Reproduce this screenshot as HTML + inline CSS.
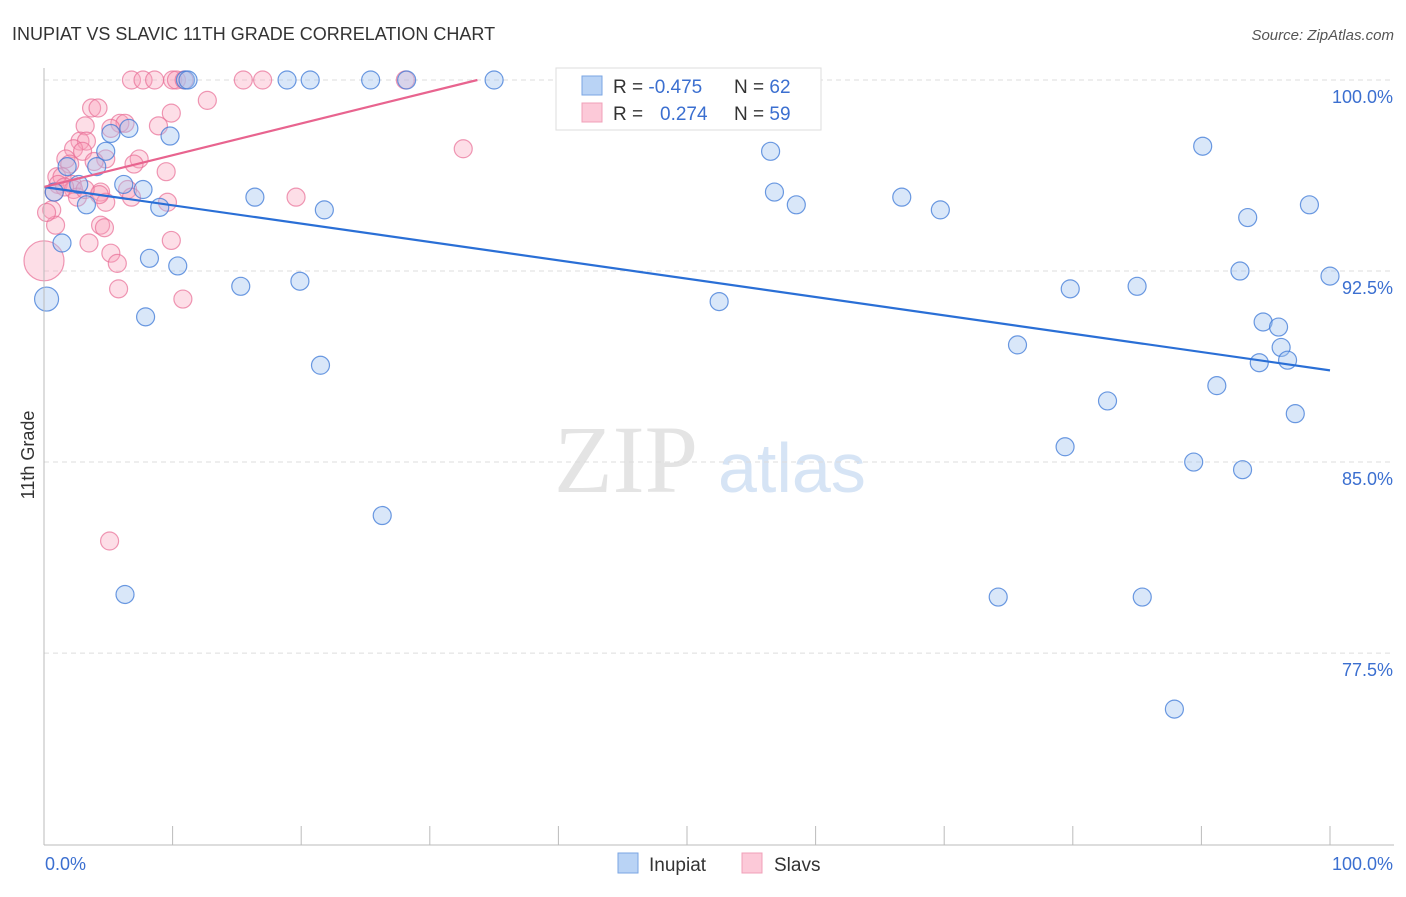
<!DOCTYPE html>
<html><head><meta charset="utf-8"><style>
body{margin:0;background:#fff;font-family:"Liberation Sans",sans-serif}
</style></head><body>
<svg id="chart" width="1406" height="892" xmlns="http://www.w3.org/2000/svg">
<text x="12" y="40" font-size="18" fill="#333">INUPIAT VS SLAVIC 11TH GRADE CORRELATION CHART</text>
<text x="1394" y="40" font-size="15" fill="#555" text-anchor="end" font-style="italic">Source: ZipAtlas.com</text>
<text x="554" y="492" font-size="96" fill="#e4e4e4" font-family="Liberation Serif">ZIP</text>
<text x="718" y="492" font-size="70" fill="#d6e4f5">atlas</text>
<text transform="translate(34,455) rotate(-90)" font-size="18" fill="#333" text-anchor="middle">11th Grade</text>
<g id="grid"></g><g id="pts"></g><g id="lines"></g>
<line x1="44" y1="68" x2="44" y2="845" stroke="#bbb"/>
<line x1="44" y1="845" x2="1394" y2="845" stroke="#bbb"/>
<text x="45" y="870" font-size="18" fill="#3b6fd0">0.0%</text>
<text x="1393" y="870" font-size="18" fill="#3b6fd0" text-anchor="end">100.0%</text>
<g>
<rect x="556" y="68" width="265" height="62" fill="#fff" stroke="#ddd"/>
<rect x="582" y="76" width="20" height="19" fill="#b9d3f5" stroke="#7aa6e3"/>
<rect x="582" y="103" width="20" height="19" fill="#fcc9d8" stroke="#f0a0b8"/>
<text x="613" y="93" font-size="19" fill="#333">R = <tspan fill="#3b6fd0">-0.475</tspan></text>
<text x="734" y="93" font-size="19" fill="#333">N = <tspan fill="#3b6fd0">62</tspan></text>
<text x="613" y="120" font-size="19" fill="#333">R =   <tspan x="660" fill="#3b6fd0">0.274</tspan></text>
<text x="734" y="120" font-size="19" fill="#333">N = <tspan fill="#3b6fd0">59</tspan></text>
</g>
<g>
<rect x="618" y="853" width="20" height="20" fill="#b9d3f5" stroke="#7aa6e3"/>
<text x="649" y="871" font-size="19" fill="#333">Inupiat</text>
<rect x="742" y="853" width="20" height="20" fill="#fcc9d8" stroke="#f0a0b8"/>
<text x="774" y="871" font-size="19" fill="#333">Slavs</text>
</g>
</svg>
<script>
const yTicks=[100,92.5,85,77.5];
const yTickLabels=["100.0%","92.5%","85.0%","77.5%"];
const xTickCount=11;
const inupiatX=[11,11.2,18.9,20.7,25.4,28.2,35,47.3,9.8,5.2,6.6,4.8,4.1,1.8,2.7,0.8,6.2,7.7,3.3,9,16.4,21.8,1.4,8.2,10.4,15.3,19.9,0.2,7.9,21.5,26.3,6.3,56.5,56.8,58.5,66.7,69.7,90.1,93.6,98.4,100,93,79.8,85,52.5,94.8,96,96.2,94.5,96.7,75.7,91.2,82.7,97.3,79.4,89.4,93.2,74.2,85.4,87.9];
const inupiatY=[100,100,100,100,100,100,100,100,97.8,97.9,98.1,97.2,96.6,96.6,95.9,95.6,95.9,95.7,95.1,95,95.4,94.9,93.6,93,92.7,91.9,92.1,91.4,90.7,88.8,82.9,79.8,97.2,95.6,95.1,95.4,94.9,97.4,94.6,95.1,92.3,92.5,91.8,91.9,91.3,90.5,90.3,89.5,88.9,89,89.6,88,87.4,86.9,85.6,85,84.7,79.7,79.7,75.3];
const slavsX=[6.8,7.7,8.6,10,10.3,10.9,15.5,17,28.1,12.7,3.7,4.2,9.9,5.9,6.3,8.9,3.2,5.2,2.8,3.3,2.3,3,4.8,7.4,3.9,7,1.7,2,9.5,1,1.4,2.2,1.1,2.3,1.6,6.5,4.4,19.6,6.8,2.6,4.8,9.6,0.6,0.9,4.4,4.7,3.5,5.2,9.9,5.7,32.6,0,5.8,10.8,5.1,4.3,0.2,0.8,3.2];
const slavsY=[100,100,100,100,100,100,100,100,100,99.2,98.9,98.9,98.7,98.3,98.3,98.2,98.2,98.1,97.6,97.6,97.3,97.2,96.9,96.9,96.8,96.7,96.9,96.7,96.4,96.2,96.2,95.9,95.9,95.7,95.8,95.7,95.6,95.4,95.4,95.4,95.2,95.2,94.9,94.3,94.3,94.2,93.6,93.2,93.7,92.8,97.3,92.9,91.8,91.4,81.9,95.5,94.8,95.6,95.7];
const inupiatLine=[[0,95.8],[100,88.6]];
const slavsLine=[[0,95.8],[33.7,100]];
const sx=v=>44+v*12.86;
const sy=v=>80+(100-v)*25.47;
const NS="http://www.w3.org/2000/svg";
const g=document.getElementById('grid'),P=document.getElementById('pts'),L=document.getElementById('lines');
yTicks.forEach((t,i)=>{
 const ln=document.createElementNS(NS,'line');
 ln.setAttribute('x1',44);ln.setAttribute('x2',1394);ln.setAttribute('y1',sy(t));ln.setAttribute('y2',sy(t));
 ln.setAttribute('stroke','#ddd');ln.setAttribute('stroke-dasharray','5,4');
 
 
 g.appendChild(ln);
 const tx=document.createElementNS(NS,'text');
 tx.setAttribute('x',1393);tx.setAttribute('y',sy(t)+23);tx.setAttribute('text-anchor','end');
 tx.setAttribute('font-size','18');tx.setAttribute('fill','#3b6fd0');tx.textContent=yTickLabels[i];
 
 
 g.appendChild(tx);
});
for(let i=0;i<xTickCount;i++){
 const ln=document.createElementNS(NS,'line');
 const x=sx(i*10);
 ln.setAttribute('x1',x);ln.setAttribute('x2',x);ln.setAttribute('y1',826);ln.setAttribute('y2',845);ln.setAttribute('stroke','#bbb');
 
 
 g.appendChild(ln);
}
function dots(xs,ys,fill,stroke,name){
 xs.forEach((x,i)=>{
  const c=document.createElementNS(NS,'circle');
  let r=9;
  if(name==='slavs-point'&&x===0&&ys[i]>92.8&&ys[i]<93)r=20;
  if(name==='inupiat-point'&&x<0.3&&ys[i]<91.5&&ys[i]>91.3)r=12;
  c.setAttribute('cx',sx(x));c.setAttribute('cy',sy(ys[i]));c.setAttribute('r',r);
  c.setAttribute('fill',fill);c.setAttribute('stroke',stroke);c.setAttribute('stroke-width','1.2');
  
  
  P.appendChild(c);
 });
}
dots(slavsX,slavsY,'rgba(248,160,185,0.35)','rgba(232,110,150,0.7)','slavs-point');
dots(inupiatX,inupiatY,'rgba(160,195,240,0.4)','rgba(60,120,215,0.75)','inupiat-point');
function line(d,col,name){
 const l=document.createElementNS(NS,'line');
 l.setAttribute('x1',sx(d[0][0]));l.setAttribute('y1',sy(d[0][1]));l.setAttribute('x2',sx(d[1][0]));l.setAttribute('y2',sy(d[1][1]));
 l.setAttribute('stroke',col);l.setAttribute('stroke-width','2.2');
 
 
 L.appendChild(l);
}
line(inupiatLine,'#2a6fd6','inupiat-trend-line');
line(slavsLine,'#e8648f','slavs-trend-line');
</script>
</body></html>
